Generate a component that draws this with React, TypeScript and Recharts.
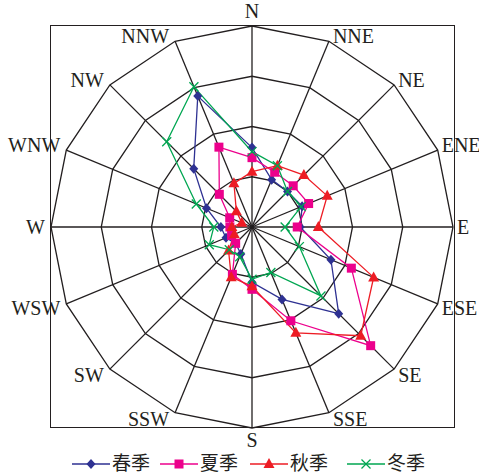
import React from "react";
import {
  RadarChart,
  Radar,
  PolarGrid,
  PolarAngleAxis,
  PolarRadiusAxis,
  Legend,
} from "recharts";

// wind directions, clockwise from north
const DIRS = ["N", "NNE", "NE", "ENE", "E", "ESE", "SE", "SSE", "S", "SSW", "SW", "WSW", "W", "WNW", "NW", "NNW"];

// frequency per direction (%)
const SPRING = [7.9, 5.1, 5.0, 5.4, 4.8, 8.5, 12.2, 7.8, 5.5, 2.9, 2.3, 2.8, 3.1, 4.9, 8.2, 14.1];
const SUMMER = [6.9, 5.9, 5.8, 6.1, 4.5, 10.7, 16.7, 10.1, 6.2, 5.1, 2.3, 2.2, 2.2, 2.4, 4.6, 8.6];
const AUTUMN = [5.5, 6.6, 7.3, 8.1, 6.6, 13.1, 15.3, 11.4, 5.9, 5.4, 3.3, 1.9, 2.0, 1.1, 2.2, 4.7];
const WINTER = [7.5, 6.6, 5.0, 5.3, 3.3, 5.1, 9.7, 4.9, 5.2, 3.2, 3.2, 4.6, 3.8, 6.0, 12.0, 15.1];

const SERIES = [
  { key: "spring", name: "春季", color: "#2e3192", shape: "diamond" },
  { key: "summer", name: "夏季", color: "#ec008c", shape: "square" },
  { key: "autumn", name: "秋季", color: "#ed1c24", shape: "triangle" },
  { key: "winter", name: "冬季", color: "#00a651", shape: "cross" },
];

const data = DIRS.map((d, i) => ({
  dir: d,
  spring: SPRING[i],
  summer: SUMMER[i],
  autumn: AUTUMN[i],
  winter: WINTER[i],
}));

const W = 479;
const H = 476;
const CX = 252;
const CY = 227;
const R = 201;
const SERIF = "'Liberation Serif', 'Times New Roman', serif";

function Marker({ shape, color, x, y }: { shape: string; color: string; x: number; y: number }) {
  if (shape === "diamond") {
    return <polygon points={`${x},${y - 5} ${x + 4.5},${y} ${x},${y + 5} ${x - 4.5},${y}`} fill={color} />;
  }
  if (shape === "square") {
    return <rect x={x - 4.5} y={y - 4.5} width={9} height={9} fill={color} />;
  }
  if (shape === "triangle") {
    return <polygon points={`${x},${y - 6} ${x + 5.5},${y + 4} ${x - 5.5},${y + 4}`} fill={color} />;
  }
  return (
    <g stroke={color} strokeWidth={1.3}>
      <line x1={x - 4.5} y1={y - 4.5} x2={x + 4.5} y2={y + 4.5} />
      <line x1={x - 4.5} y1={y + 4.5} x2={x + 4.5} y2={y - 4.5} />
    </g>
  );
}

function makeDot(shape: string, color: string) {
  return (props: any) => {
    const { cx, cy, index } = props;
    return <Marker key={`${shape}-${index}`} shape={shape} color={color} x={cx} y={cy} />;
  };
}

function AngleTick(props: any) {
  const { payload } = props;
  const i = DIRS.indexOf(payload.value);
  const a = ((90 - i * 22.5) * Math.PI) / 180;
  const c = Math.cos(a);
  const s = Math.sin(a);
  const vx = CX + R * c;
  const vy = CY - R * s;
  let x = vx;
  let y = vy;
  let anchor = "middle";
  if (c > 0.01) {
    anchor = "start";
    x = vx + 4;
  } else if (c < -0.01) {
    anchor = "end";
    x = vx - 6;
  }
  if (Math.abs(c) < 0.01) {
    y = s > 0 ? vy - 8 : vy + 19;
  } else if (Math.abs(s) < 0.01) {
    y = vy + 7;
  } else if (s > 0) {
    y = vy + 2;
  } else {
    y = Math.abs(c) > 0.9 ? vy + 11 : vy + 13;
  }
  return (
    <text x={x} y={y} textAnchor={anchor} fontFamily={SERIF} fontSize={20} fill="#231f20">
      {payload.value}
    </text>
  );
}

function LegendBox() {
  const starts = [72, 160, 250, 347];
  return (
    <svg width={W} height={26} style={{ display: "block", overflow: "visible" }}>
      {SERIES.map((s, i) => {
        const x0 = starts[i];
        return (
          <g key={s.key}>
            <line x1={x0} y1={14} x2={x0 + 38} y2={14} stroke={s.color} strokeWidth={1.3} />
            <Marker shape={s.shape} color={s.color} x={x0 + 19} y={14} />
            <text
              x={x0 + 40}
              y={20}
              fontSize={19}
              fontFamily="'Noto Sans CJK SC', sans-serif"
              fill="#231f20"
            >
              {s.name}
            </text>
          </g>
        );
      })}
    </svg>
  );
}

export default function App() {
  return (
    <div style={{ position: "absolute", left: 0, top: 0, width: W, height: H, background: "#fff" }}>
      <div
        style={{
          position: "absolute",
          left: 50,
          top: 25,
          width: 403,
          height: 401,
          border: "1.5px solid #231f20",
        }}
      />
      <RadarChart
        width={W}
        height={H}
        data={data}
        cx={CX}
        cy={CY}
        outerRadius={R}
        margin={{ top: 0, right: 0, bottom: 0, left: 0 }}
      >
        <PolarGrid gridType="polygon" stroke="#231f20" strokeWidth={1.3} strokeOpacity={1} />
        <PolarAngleAxis dataKey="dir" tick={<AngleTick />} tickLine={false} axisLine={false} />
        <PolarRadiusAxis domain={[0, 20]} tickCount={5} tick={false} axisLine={false} />
        {SERIES.map((s) => (
          <Radar
            key={s.key}
            name={s.name}
            dataKey={s.key}
            stroke={s.color}
            strokeWidth={1.3}
            fill="none"
            fillOpacity={0}
            dot={makeDot(s.shape, s.color)}
            isAnimationActive={false}
          />
        ))}
        <Legend
          content={<LegendBox />}
          wrapperStyle={{ position: "absolute", left: 0, top: 450, width: W, height: 26 }}
        />
      </RadarChart>
    </div>
  );
}
